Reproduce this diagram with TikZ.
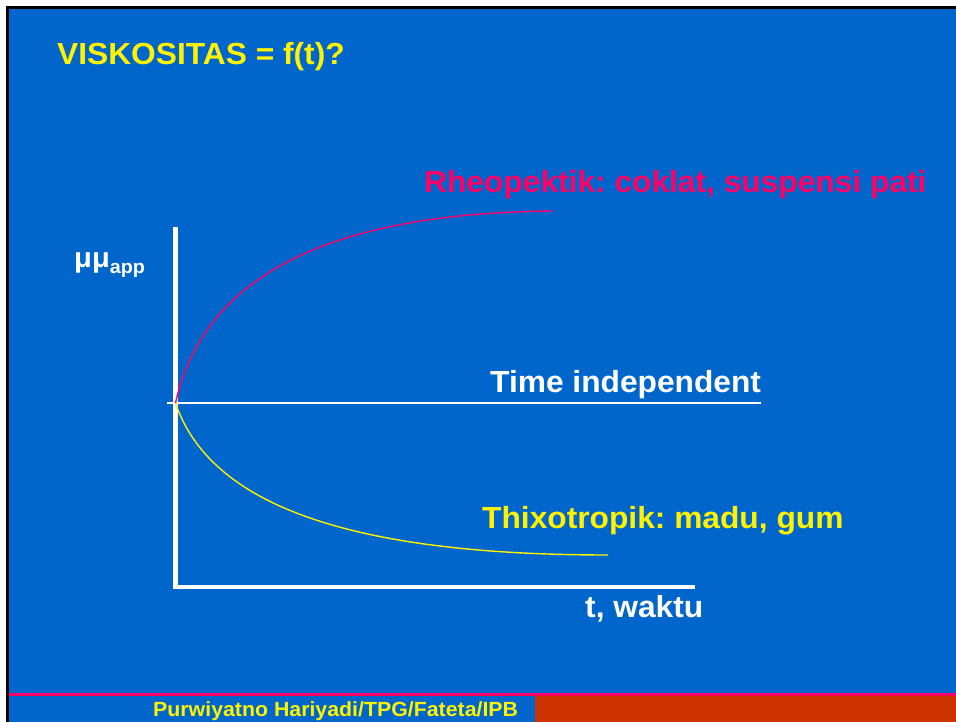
\documentclass[tikz,border=0pt]{standalone}
\usepackage{fontspec}
\setmainfont[FakeStretch=1.04]{Liberation Sans}
\frenchspacing
\definecolor{slideblue}{HTML}{0066CC}
\definecolor{rheopink}{HTML}{FF0066}
\definecolor{footred}{HTML}{CC3300}
\tikzset{
	lbl/.style={anchor=base west,inner sep=0pt,font=\bfseries\fontsize{30.5}{34}\selectfont},
	curve/.style={line width=1.4pt}
}

\begin{document}
\begin{tikzpicture}[x=1pt,y=-1pt]
	\useasboundingbox (0,0) rectangle (956,722);
	% slide background
	\fill[white] (0,0) rectangle (956,722);
	\fill[black] (6,6) rectangle (956,722);
	\fill[slideblue] (9,9) rectangle (956,722);
	\fill[rheopink] (9,692.5) rectangle (956,695.5);
	\fill[footred] (535,695.5) rectangle (956,722);
	\node[lbl,text=yellow] (title) at (57,65) {VISKOSITAS = f(t)?};
	% axes
	\coordinate (ytop) at (175.5,227);
	\coordinate (orig) at (175.5,587);
	\coordinate (xend) at (695,587);
	\draw[white,line width=4.4pt] (ytop)--(orig)--(xend);
	\coordinate (start) at (175.5,403);
	\draw[white,line width=2pt] (167,403)--(761,403);
	% curves
	\coordinate (rheoend) at (553,211);
	\coordinate (thixoend) at (608,555);
	\draw[rheopink,curve] (start) .. controls (205,270) and (340,213) .. (rheoend);
	\draw[yellow,curve] (start) .. controls (210,505) and (350,555) .. (thixoend);
	% labels
	\node[anchor=base west,inner sep=0pt,text=white,font=\bfseries\fontsize{28}{30}\selectfont] (mu) at (74,267) {μμ\raisebox{-6pt}{\fontsize{19}{20}\selectfont app}};
	\node[lbl,text=rheopink] (rheo) at (424,193) {Rheopektik: coklat, suspensi pati};
	\node[lbl,text=white] (indep) at (490,392) {Time independent};
	\node[lbl,text=yellow] (thixo) at (482,528) {Thixotropik: madu, gum};
	\node[lbl,text=white] (waktu) at (585,617) {t, waktu};
	\node[anchor=base west,inner sep=0pt,text=yellow,font=\bfseries\fontsize{20.5}{22}\selectfont] (foot) at (153,716) {Purwiyatno Hariyadi/TPG/Fateta/IPB};
\end{tikzpicture}
\end{document}
